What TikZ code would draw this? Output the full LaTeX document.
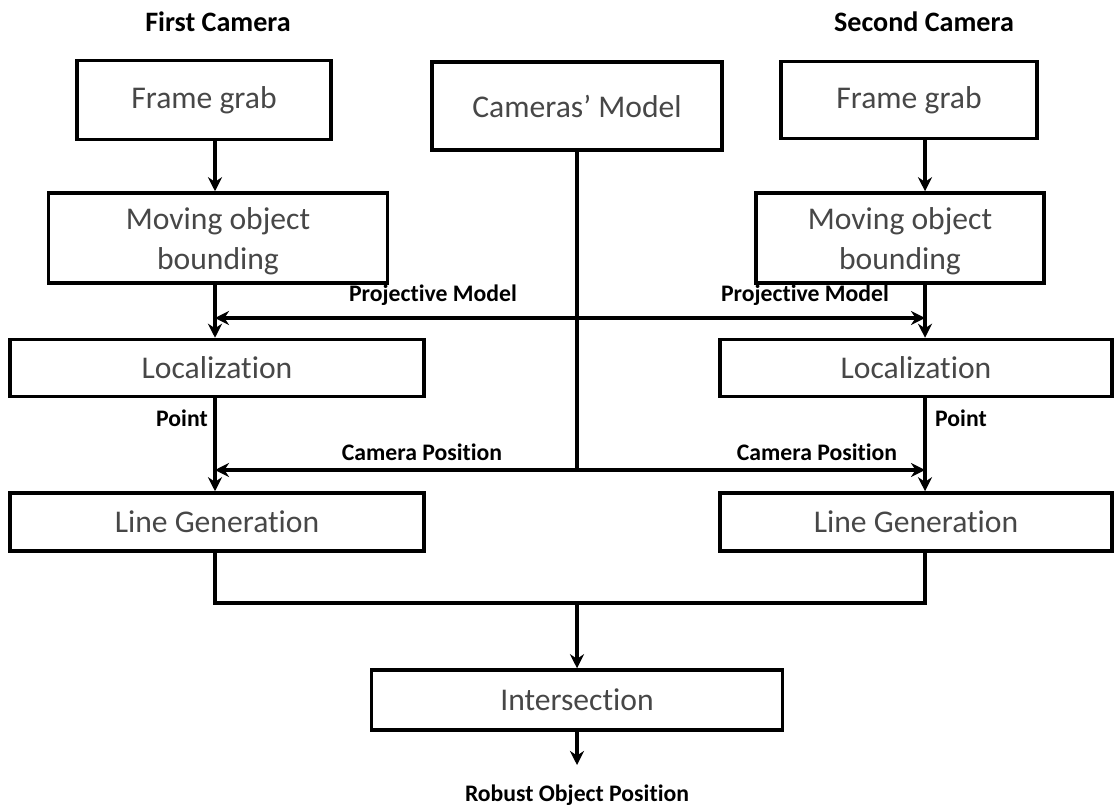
\documentclass[tikz,border=0pt]{standalone}
\usepackage{fontspec}
\setmainfont[Ligatures=NoCommon]{Carlito}
\usetikzlibrary{arrows.meta}

\begin{document}
\begin{tikzpicture}
    [x=0.02cm,y=-0.02cm,
     box/.style={draw,line width=2pt,inner sep=0pt,align=center,
       text=black!72,font=\fontsize{18}{22.7}\selectfont},
     tag/.style={inner sep=0pt,font=\bfseries\fontsize{13.5}{15}\selectfont},
     head/.style={inner sep=0pt,font=\bfseries\fontsize{16}{18}\selectfont},
     arr/.style={line width=2.2pt,-{Stealth[length=8pt,width=8pt]}},
     wire/.style={line width=2.2pt}]
    \useasboundingbox (0,0) rectangle (1114,807);

    \node[head] (t1) at (218,22) {First Camera};
    \node[head] (t2) at (924,22) {Second Camera};

    \node[box,minimum width=5.08cm,minimum height=1.58cm] (fg1) at (204,100) {Frame grab};
    \node[box,minimum width=5.8cm,minimum height=1.76cm] (cm) at (577,106) {Cameras' Model};
    \node[box,minimum width=5.12cm,minimum height=1.54cm] (fg2) at (909,100) {Frame grab};
    \node[box,minimum width=6.78cm,minimum height=1.8cm] (mob1) at (218,238) {\strut Moving object\\bounding};
    \node[box,minimum width=5.76cm,minimum height=1.8cm] (mob2) at (900,238) {\strut Moving object\\bounding};
    \node[box,minimum width=8.28cm,minimum height=1.14cm] (loc1) at (217,368) {Localization};
    \node[box,minimum width=7.84cm,minimum height=1.14cm] (loc2) at (916,368) {Localization};
    \node[box,minimum width=8.28cm,minimum height=1.16cm] (lg1) at (217,522) {Line Generation};
    \node[box,minimum width=7.84cm,minimum height=1.16cm] (lg2) at (916,522) {Line Generation};
    \node[box,minimum width=8.22cm,minimum height=1.2cm] (int) at (577,700) {Intersection};

    \node[tag] (pm1) at (433,295) {Projective Model};
    \node[tag] (pm2) at (805,295) {Projective Model};
    \node[tag] (pt1) at (182,418) {Point};
    \node[tag] (pt2) at (961,418) {Point};
    \node[tag] (cp1) at (422,452) {Camera Position};
    \node[tag] (cp2) at (817,452) {Camera Position};
    \node[tag] (out) at (577,795) {Robust Object Position};

    \coordinate (colL) at (215,0);
    \coordinate (colR) at (925,0);
    \coordinate (pj) at (577,318);
    \coordinate (cj) at (577,470);
    \coordinate (mj) at (577,603);
    \coordinate (res) at (577,765);

    % camera columns
    \draw[arr] (fg1.south -| colL) -- (mob1.north -| colL);
    \draw[arr] (mob1.south -| colL) -- (loc1.north -| colL);
    \draw[arr] (loc1.south -| colL) -- (lg1.north -| colL);
    \draw[arr] (fg2.south -| colR) -- (mob2.north -| colR);
    \draw[arr] (mob2.south -| colR) -- (loc2.north -| colR);
    \draw[arr] (loc2.south -| colR) -- (lg2.north -| colR);

    % cameras' model feeds
    \draw[wire] (cm.south) -- (cj);
    \draw[arr] (pj) -- (pj -| colL);
    \draw[arr] (pj) -- (pj -| colR);
    \draw[arr] (cj) -- (cj -| colL);
    \draw[arr] (cj) -- (cj -| colR);

    % merge
    \draw[wire] (lg1.south -| colL) -- (mj -| colL) -- (mj -| colR) -- (lg2.south -| colR);
    \draw[arr] (mj) -- (int.north);
    \draw[arr] (int.south) -- (res);
\end{tikzpicture}
\end{document}
